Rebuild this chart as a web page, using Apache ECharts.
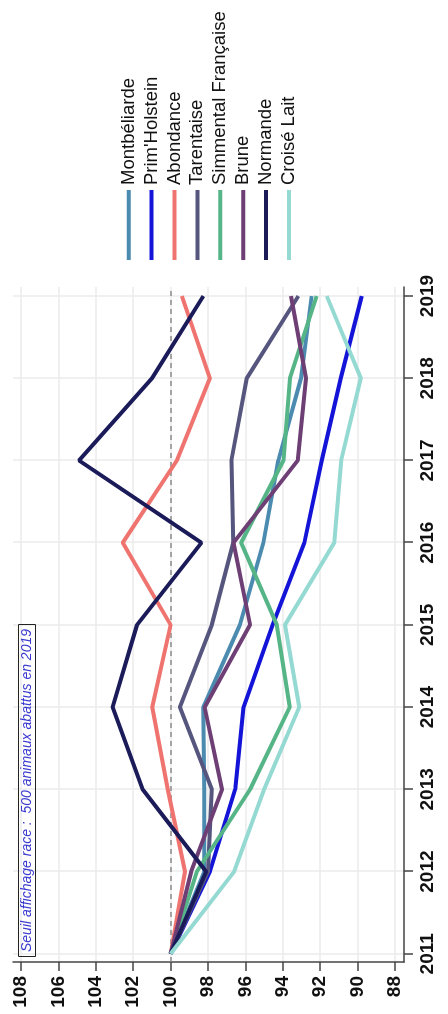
<!DOCTYPE html>
<html><head><meta charset="utf-8">
<script src="https://cdn.jsdelivr.net/npm/echarts@6/dist/echarts.min.js"></script>
<style>
html,body{margin:0;padding:0;width:448px;height:1014px;overflow:hidden;background:#fff}
#c{position:absolute;left:0;top:0;width:1014px;height:448px;transform-origin:0 0;transform:translate(0,1014px) rotate(-90deg);}
</style></head><body><div id="c"></div>
<script>
const years = [2011, 2012, 2013, 2014, 2015, 2016, 2017, 2018, 2019];
const valueTicks = [88, 90, 92, 94, 96, 98, 100, 102, 104, 106, 108];
const breeds = ["Montbéliarde", "Prim'Holstein", "Abondance", "Tarentaise", "Simmental Française", "Brune", "Normande", "Croisé Lait"];
const montbeliarde = [100, 98.2, 98.2, 98.25, 96.3, 95.04, 94.24, 93.03, 92.46];
const primHolstein = [100, 97.9, 96.55, 96.1, 94.55, 92.85, 91.92, 90.9, 89.78];
const abondance = [100, 99.23, 100.15, 100.98, 100.0, 102.56, 99.67, 97.9, 99.4];
const tarentaise = [100, 98.0, 97.8, 99.5, 97.8, 96.65, 96.75, 95.93, 93.17];
const simmental = [100, 98.6, 95.75, 93.63, 94.32, 96.23, 93.97, 93.62, 92.19];
const brune = [100, 98.9, 97.25, 98.18, 95.75, 96.64, 93.2, 92.76, 93.56];
const normande = [100, 98.1, 101.5, 103.1, 101.8, 98.35, 104.9, 101.0, 98.25];
const croiseLait = [100, 96.6, 95.0, 93.12, 93.88, 91.25, 90.88, 89.83, 91.65];
const threshold = 100;
const note = 'Seuil affichage race :  500 animaux abattus en 2019';

const seriesValues = [montbeliarde, primHolstein, abondance, tarentaise, simmental, brune, normande, croiseLait];
const colors = ['#4b8bb0', '#1414d8', '#ef7470', '#55557e', '#56b587', '#6e3f75', '#1b1b5a', '#94d9d2'];
const FONT = 'Liberation Sans';

const series = breeds.map((name, i) => ({
  name: name,
  type: 'line',
  symbol: 'none',
  data: years.map((y, k) => [y, seriesValues[i][k]]),
  lineStyle: { width: 4, color: colors[i] },
  itemStyle: { color: colors[i] },
  emphasis: { disabled: true },
  z: 3
}));
series[0].markLine = {
  silent: true,
  symbol: ['none', 'none'],
  label: { show: false },
  lineStyle: { type: [5, 4], color: '#8a8a8a', width: 1.5 },
  data: [{ yAxis: threshold }],
  z: 2
};

const chart = echarts.init(document.getElementById('c'), null, { renderer: 'canvas' });
chart.setOption({
  animation: false,
  backgroundColor: '#fff',
  color: colors,
  title: {
    text: note, left: 57, top: 18, padding: [2, 5],
    borderColor: '#222', borderWidth: 1,
    textStyle: { fontSize: 14, fontStyle: 'italic', fontWeight: 'normal', color: '#3a3ad0', fontFamily: FONT }
  },
  legend: {
    data: breeds, orient: 'vertical', left: 754, top: 118.7, padding: 0,
    itemGap: 2.9, itemWidth: 70, itemHeight: 4, icon: 'rect',
    textStyle: { fontSize: 18.5, lineHeight: 20, color: '#111', fontFamily: FONT }
  },
  grid: { left: 52, right: 287, top: 13, bottom: 44 },
  xAxis: {
    type: 'value', min: 2010.9, max: 2019.11,
    axisLine: { show: true, onZero: false, lineStyle: { color: '#444', width: 1.5 } },
    axisTick: { show: true, length: 9, customValues: years, lineStyle: { color: '#444', width: 1.5 } },
    axisLabel: { customValues: years, margin: 14, fontSize: 19, fontWeight: 'bold', color: '#111', fontFamily: FONT, formatter: v => String(v) },
    splitLine: { show: true, lineStyle: { color: '#ebebeb', width: 1.5 } }
  },
  yAxis: {
    type: 'value', min: 87.52, max: 108.43,
    axisLine: { show: true, onZero: false, lineStyle: { color: '#444', width: 1.5 } },
    axisTick: { show: true, length: 9, customValues: valueTicks, lineStyle: { color: '#444', width: 1.5 } },
    axisLabel: { customValues: valueTicks, margin: 14, fontSize: 19, fontWeight: 'bold', color: '#111', fontFamily: FONT, formatter: v => String(v) },
    splitLine: { show: true, lineStyle: { color: '#ebebeb', width: 1.5 } }
  },
  series: series
});
</script></body></html>
